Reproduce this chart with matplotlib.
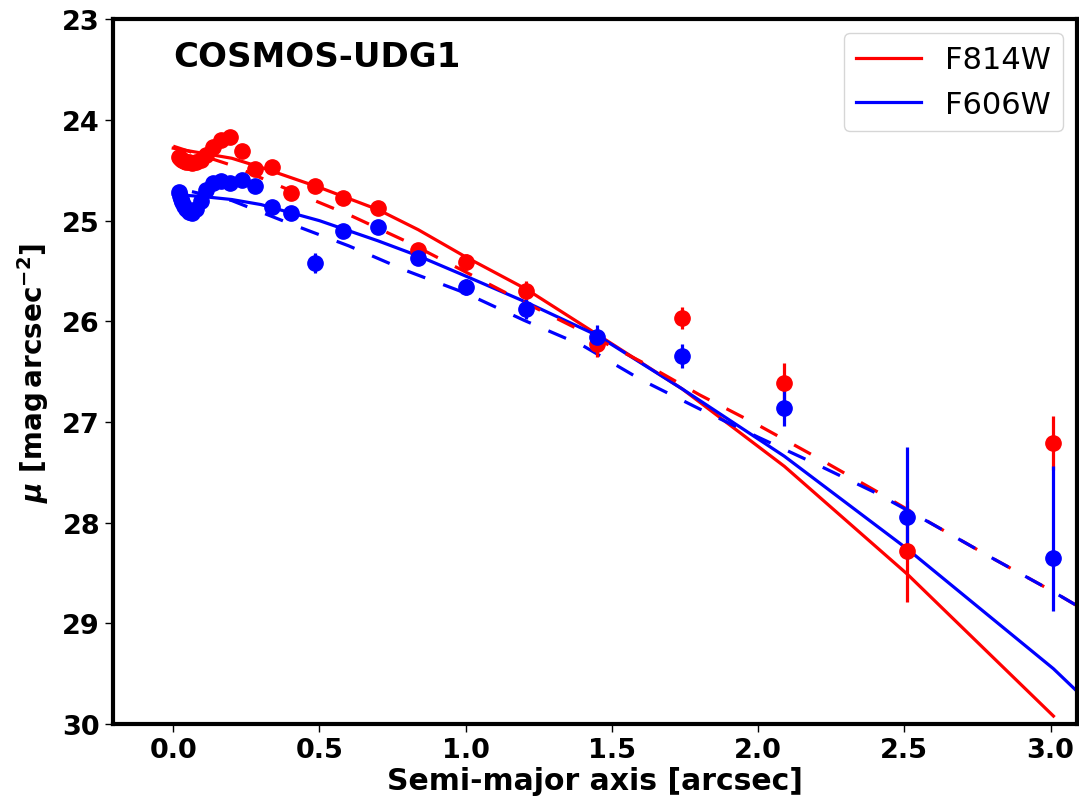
import numpy as np
import matplotlib
matplotlib.use("Agg")
import matplotlib.pyplot as plt

# isophote semi-major axes [arcsec]
sma = [0.018, 0.022, 0.026, 0.031, 0.038, 0.045, 0.054, 0.065, 0.078, 0.094,
       0.113, 0.135, 0.162, 0.195, 0.234, 0.28, 0.337, 0.404, 0.485, 0.58,
       0.70, 0.838, 1.0, 1.207, 1.45, 1.74, 2.09, 2.51, 3.01]

mu_f814w = [24.37, 24.38, 24.39, 24.40, 24.41, 24.42, 24.42, 24.43, 24.42, 24.40,
            24.35, 24.27, 24.20, 24.17, 24.31, 24.49, 24.47, 24.73, 24.66, 24.77,
            24.87, 25.29, 25.41, 25.70, 26.22, 25.97, 26.61, 28.28, 27.21]
err_f814w_lo = [0.02] * 14 + [0.03, 0.03, 0.03, 0.04, 0.05, 0.05,
                              0.06, 0.07, 0.08, 0.10, 0.13, 0.11, 0.20, 0.50, 0.27]
err_f814w_hi = [0.02] * 14 + [0.03, 0.03, 0.03, 0.04, 0.05, 0.05,
                              0.06, 0.07, 0.08, 0.10, 0.13, 0.11, 0.20, 0.51, 0.27]

mu_f606w = [24.72, 24.75, 24.78, 24.81, 24.85, 24.88, 24.91, 24.92, 24.88, 24.80,
            24.70, 24.63, 24.61, 24.63, 24.60, 24.66, 24.86, 24.92, 25.42, 25.10,
            25.06, 25.37, 25.66, 25.88, 26.16, 26.34, 26.86, 27.94, 28.35]
err_f606w_lo = [0.02] * 14 + [0.03, 0.03, 0.04, 0.05, 0.10, 0.05,
                              0.06, 0.07, 0.08, 0.10, 0.12, 0.12, 0.18, 0.69, 0.91]
err_f606w_hi = [0.02] * 14 + [0.03, 0.03, 0.04, 0.05, 0.10, 0.05,
                              0.06, 0.07, 0.08, 0.10, 0.12, 0.12, 0.18, 0.42, 0.53]

# model profiles (solid)
model_x = [0.0, 0.1, 0.2, 0.3, 0.4, 0.5, 0.6, 0.7, 0.838, 1.0, 1.207,
           1.45, 1.74, 2.09, 2.51, 3.01]
model_f814w = [24.28, 24.33, 24.38, 24.47, 24.57, 24.67, 24.78, 24.89, 25.09,
               25.36, 25.68, 26.13, 26.67, 27.44, 28.51, 29.92]
model_f606w_x = model_x + [3.1]
model_f606w = [24.74, 24.76, 24.79, 24.84, 24.92, 25.00, 25.10, 25.20, 25.35,
               25.55, 25.81, 26.14, 26.67, 27.34, 28.26, 29.45, 29.70]

# Sersic fits (dashed)
sersic_x = [0.0, 0.2, 0.4, 0.6, 0.8, 1.0, 1.2, 1.4, 1.6, 1.8, 2.0, 2.2, 2.4,
            2.6, 2.8, 3.0, 3.1]
sersic_f814w = [24.26, 24.45, 24.70, 24.94, 25.21, 25.51, 25.81, 26.10, 26.40,
                26.73, 27.03, 27.35, 27.68, 28.02, 28.35, 28.67, 28.84]
sersic_f606w = [24.67, 24.80, 25.03, 25.25, 25.50, 25.72, 25.99, 26.24, 26.58,
                26.87, 27.15, 27.42, 27.70, 28.02, 28.35, 28.67, 28.84]

plt.rcParams['font.family'] = ['DejaVu Sans']
plt.rcParams['font.weight'] = 'bold'

fig = plt.figure(figsize=(10.79, 8.12), dpi=100)
ax = fig.add_axes([0.105, 0.107, 0.893, 0.868])

lw = 2.3
ax.plot(model_x, model_f814w, color='red', lw=lw, label='F814W')
ax.plot(model_f606w_x, model_f606w, color='blue', lw=lw, label='F606W')
ax.plot(sersic_x, sersic_f814w, color='red', lw=lw, ls=(0, (6, 6)))
ax.plot(sersic_x, sersic_f606w, color='blue', lw=lw, ls=(6, (6, 6)))

ax.errorbar(sma, mu_f814w, yerr=[err_f814w_lo, err_f814w_hi], fmt='o',
            color='red', ms=11, elinewidth=2.3, capsize=0)
ax.errorbar(sma, mu_f606w, yerr=[err_f606w_lo, err_f606w_hi], fmt='o',
            color='blue', ms=11, elinewidth=2.3, capsize=0)

ax.set_xlim(-0.205, 3.09)
ax.set_ylim(30, 23)
ax.set_xticks([0.0, 0.5, 1.0, 1.5, 2.0, 2.5, 3.0])
ax.set_yticks([23, 24, 25, 26, 27, 28, 29, 30])
ax.tick_params(labelsize=19.5, length=6, width=1)
for lab in ax.get_xticklabels() + ax.get_yticklabels():
    lab.set_fontweight('bold')
for sp in ax.spines.values():
    sp.set_linewidth(3)

ax.set_xlabel('Semi-major axis [arcsec]', fontsize=21.5, fontweight='bold', labelpad=2)
ax.set_ylabel(r'$\mu$ [$\mathbf{mag\,arcsec^{-2}}$]', fontsize=20,
              fontweight='bold', labelpad=8)

ax.text(0.0, 23.37, 'COSMOS-UDG1', fontsize=24.5,
        fontweight='bold', va='center', ha='left')

leg = ax.legend(loc='upper right', handlelength=2.1, handletextpad=0.8,
                prop={'size': 22, 'weight': 'normal'}, borderaxespad=0.45)

fig.savefig('out.png', dpi=100)
